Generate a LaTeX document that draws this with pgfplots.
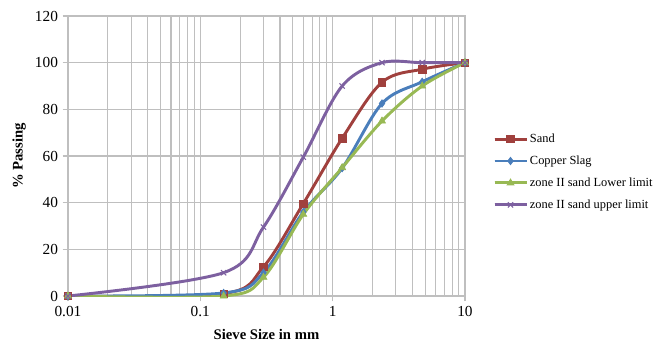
\documentclass[border=0pt]{standalone}
\usepackage{pgfplots}
\pgfplotsset{compat=1.18}
\usepackage{fontspec}
\setmainfont{Liberation Serif}
\definecolor{cSand}{HTML}{A0403D}
\definecolor{cSlag}{HTML}{4A7EBB}
\definecolor{cLow}{HTML}{98B954}
\definecolor{cUp}{HTML}{7D60A0}
\definecolor{cGrid}{HTML}{BFBFBF}
\begin{document}
\begin{tikzpicture}
\path[use as bounding box] (-51pt,-36pt) rectangle (442.5pt,222pt);
\begin{axis}[
  at={(0,0)}, anchor=south west,
  scale only axis, width=297.75pt, height=210pt,
  xmode=log, xmin=0.01, xmax=10, ymin=0, ymax=120,
  ytick={0,20,...,120},
  xtick={0.01,0.1,1,10},
  xticklabels={0.01,0.1,1,10},
  log ticks with fixed point,
  xmajorgrids, xminorgrids, ymajorgrids,
  grid style={cGrid, line width=0.8pt},
  minor grid style={cGrid, line width=0.8pt},
  axis line style={cGrid, line width=0.8pt},
  tick style={cGrid, line width=0.8pt},
  major tick length=4pt, minor tick length=0pt,
  tick align=outside, xtick pos=bottom, ytick pos=left,
  /pgf/number format/assume math mode=true,
  tick label style={font=\fontsize{11.5}{13}\selectfont, black},
  xlabel={\textbf{Sieve Size in mm}},
  ylabel={\textbf{\% Passing}},
  label style={font=\fontsize{11}{13}\selectfont},
  xlabel style={yshift=-3pt},
  ylabel style={yshift=0pt},
  legend style={at={(1.07,0.443)}, anchor=west, draw=none, fill=none,
    inner sep=0pt, font=\fontsize{9.3}{11}\selectfont, row sep=4.5pt,
    legend cell align=left, nodes={inner xsep=1.5pt}},
  legend image code/.code={
    \draw[#1] (0pt,0pt) -- (24pt,0pt);
    \draw[#1, mark repeat=2, mark phase=2] plot coordinates {(0pt,0pt) (12pt,0pt) (24pt,0pt)};
  },
  every axis plot/.append style={line width=2.2pt, smooth, tension=0.55},
]
\addplot[cSand, mark=square*, mark size=2.8pt, mark options={line width=0.5pt, fill=cSand}]
  coordinates {(0.01,0) (0.15,1) (0.3,12.5) (0.6,39.6) (1.18,67.6) (2.36,91.6) (4.75,97.2) (10,100)};
\addlegendentry{Sand}
\addplot[cSlag, mark=diamond*, mark size=2.8pt, mark options={line width=0.5pt, fill=cSlag}]
  coordinates {(0.01,0) (0.15,1.3) (0.3,10) (0.6,36) (1.18,54.8) (2.36,82.5) (4.75,91.8) (10,100)};
\addlegendentry{Copper Slag}
\addplot[cLow, mark=triangle*, mark size=3pt, mark options={line width=0.5pt, fill=cLow}]
  coordinates {(0.01,0) (0.15,0) (0.3,8) (0.6,35) (1.18,55) (2.36,75) (4.75,90) (10,100)};
\addlegendentry{zone II sand Lower limit}
\addplot[cUp, mark=x, mark size=2.8pt, mark options={line width=0.8pt}]
  coordinates {(0.01,0) (0.15,10) (0.3,29.5) (0.6,59.5) (1.18,90) (2.36,100) (4.75,100) (10,100)};
\addlegendentry{zone II sand upper limit}
\end{axis}
\end{tikzpicture}
\end{document}
